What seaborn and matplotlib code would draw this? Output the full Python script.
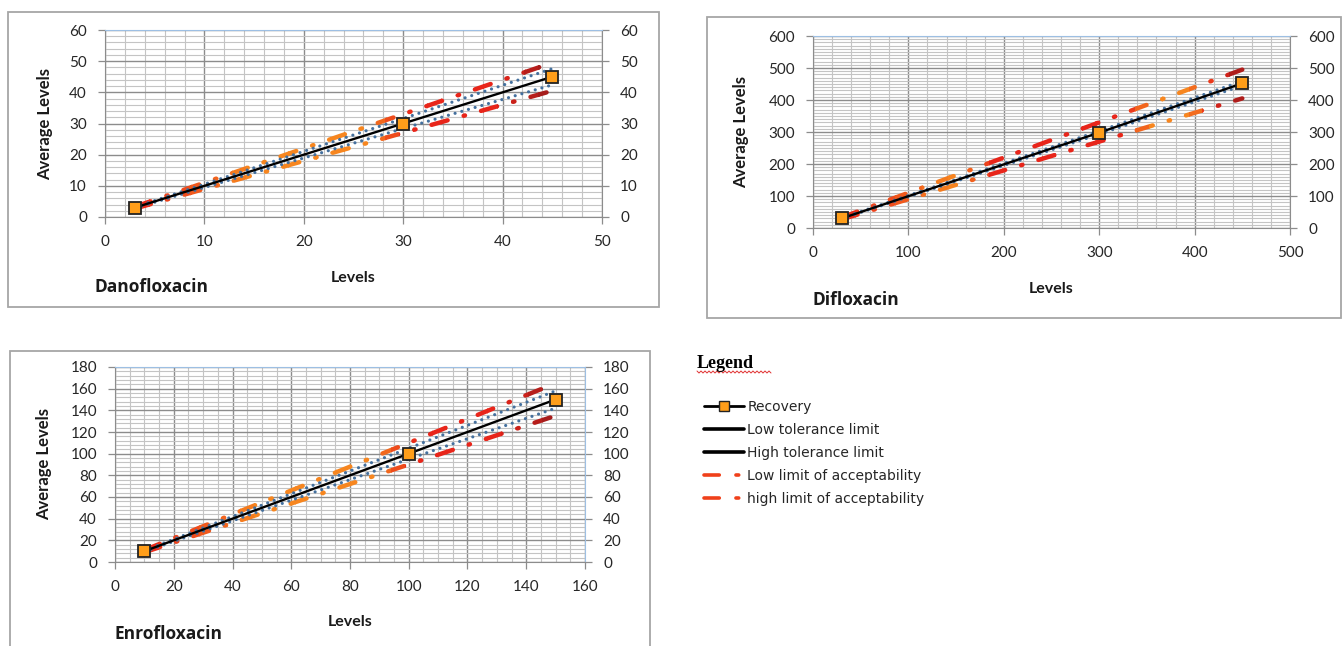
import numpy as np
import pandas as pd
import seaborn as sns
import matplotlib.pyplot as plt
from matplotlib.colors import LinearSegmentedColormap
from matplotlib.patches import Rectangle
from matplotlib.lines import Line2D
from matplotlib.ticker import MultipleLocator

# ---- data ----
dano_levels = [3, 30, 45]
dano_recovery = [3, 30, 45]
dano_tol_low = [2.85, 28.4, 42.4]
dano_tol_high = [3.15, 31.6, 47.6]
dano_acc_low = [2.7, 27, 40.5]
dano_acc_high = [3.3, 33, 49.5]

diflo_levels = [30, 300, 450]
diflo_recovery = [30, 298, 452]
diflo_tol_low = [29, 293, 445]
diflo_tol_high = [31, 303, 459]
diflo_acc_low = [27, 270, 405]
diflo_acc_high = [33, 330, 495]

enro_levels = [10, 100, 150]
enro_recovery = [10, 100, 150]
enro_tol_low = [9.5, 95, 142]
enro_tol_high = [10.5, 105, 158]
enro_acc_low = [9, 90, 135]
enro_acc_high = [11, 110, 165]

legend_labels = ["Recovery", "Low tolerance limit", "High tolerance limit",
                 "Low limit of acceptability", "high limit of acceptability"]

sns.set_style("white")
plt.rcParams["font.family"] = ["Lato", "DejaVu Sans"]
plt.rcParams["lines.scale_dashes"] = False

W, H = 1344, 646
fig = plt.figure(figsize=(W / 100, H / 100), dpi=100)

RED, ORANGE, DARKRED = "#E8251A", "#F7861F", "#9E1B1B"
ACC_DASH = (0, (12, 12, 1, 12))
TOL_DOT = (0, (0.01, 5))
GRID_MAJ, GRID_MIN = "#8c8c8c", "#c4c4c4"


def frac_rect(x0, y0, x1, y1):
    return [x0 / W, 1 - y1 / H, (x1 - x0) / W, (y1 - y0) / H]


def gradient_line(ax, levels, vals, stops, ymax, n=30):
    cmap = LinearSegmentedColormap.from_list("acc", stops)
    edges = np.linspace(levels[0], levels[-1], n + 1)
    for i in range(n):
        lo = edges[i] if i > 0 else -1e4
        hi = edges[i + 1] if i < n - 1 else 1e4
        sns.lineplot(x=levels, y=vals, ax=ax, color=cmap((i + 0.5) / n),
                     lw=3.2, linestyle=ACC_DASH, dash_capstyle="round",
                     estimator=None, legend=False)
        ax.lines[-1].set_clip_path(
            Rectangle((lo, -ymax), hi - lo + 0.002 * ymax, 3 * ymax, transform=ax.transData))


def panel(box, rect, name, name_xy, levels, rec, tl, th, al, ah,
          xmax, xmaj, xmin, ymax, ymaj, ymin, stops, ylab_x, xlab_y, right_col):
    fig.add_artist(Rectangle((box[0] / W, 1 - box[3] / H), (box[2] - box[0]) / W,
                             (box[3] - box[1]) / H, transform=fig.transFigure,
                             fill=False, ec="#a6a6a6", lw=1.3))
    ax = fig.add_axes(frac_rect(*rect))
    ax.set_facecolor("white")
    ax.set_xlim(0, xmax)
    ax.set_ylim(0, ymax)
    ax.xaxis.set_major_locator(MultipleLocator(xmaj))
    ax.xaxis.set_minor_locator(MultipleLocator(xmin))
    ax.yaxis.set_major_locator(MultipleLocator(ymaj))
    ax.yaxis.set_minor_locator(MultipleLocator(ymin))
    ax.grid(which="major", color=GRID_MAJ, lw=1.0)
    ax.grid(which="minor", color=GRID_MIN, lw=0.8)
    ax.set_axisbelow(True)
    ax.tick_params(which="major", direction="out", length=5, width=0.9, color=GRID_MAJ,
                   labelsize=11, labelcolor="#262626", left=True, right=True,
                   bottom=True, labelright=True, pad=8)
    ax.tick_params(which="minor", length=0)
    for s in ["left", "bottom"]:
        ax.spines[s].set_color(GRID_MAJ)
    ax.spines["top"].set_color("#9dbfe3")
    ax.spines["right"].set_color(right_col)

    gradient_line(ax, levels, al, stops, ymax)
    gradient_line(ax, levels, ah, stops, ymax)
    for t in (tl, th):
        sns.lineplot(x=levels, y=t, ax=ax, color="#44709e", lw=2.3, linestyle=TOL_DOT,
                     dash_capstyle="round", estimator=None, legend=False)
    sns.lineplot(x=levels, y=rec, ax=ax, color="black", lw=1.7, marker="s",
                 markersize=8, markerfacecolor="#FF9E1A", markeredgecolor="#222222",
                 markeredgewidth=1.3, estimator=None, legend=False)

    ax.set_ylabel("Average Levels", fontweight="bold", fontsize=12, color="#1a1a1a")
    ax.yaxis.set_label_coords(ylab_x, 0.5)
    ax.set_xlabel("Levels", fontweight="bold", fontsize=11.5, color="#1a1a1a")
    ax.xaxis.set_label_coords(0.5, xlab_y)
    fig.text(name_xy[0] / W, 1 - name_xy[1] / H, name, family=["Open Sans", "DejaVu Sans"],
             fontweight="bold", fontsize=12.5, color="#1a1a1a", ha="left", va="center")


stops_a = [(0, RED), (0.28, ORANGE), (0.55, ORANGE), (0.66, RED), (0.86, RED), (1, DARKRED)]
stops_b = [(0, RED), (0.28, ORANGE), (0.38, RED), (0.7, RED), (0.78, ORANGE),
           (0.87, ORANGE), (0.93, RED), (1, DARKRED)]

panel((8, 12, 659, 307), (105, 30, 602, 217), "Danofloxacin", (95, 287),
      dano_levels, dano_recovery, dano_tol_low, dano_tol_high, dano_acc_low, dano_acc_high,
      50, 10, 2, 60, 10, 2, stops_a, -0.105, -0.29, GRID_MAJ)
panel((707, 17, 1341, 318), (813, 36, 1290, 228), "Difloxacin", (813, 300),
      diflo_levels, diflo_recovery, diflo_tol_low, diflo_tol_high, diflo_acc_low, diflo_acc_high,
      500, 100, 20, 600, 100, 10, stops_b, -0.134, -0.28, GRID_MAJ)
panel((10, 351, 650, 660), (115, 367, 585, 562), "Enrofloxacin", (115, 634),
      enro_levels, enro_recovery, enro_tol_low, enro_tol_high, enro_acc_low, enro_acc_high,
      160, 20, 5, 180, 20, 4, stops_a, -0.134, -0.27, "#9dbfe3")

# ---- legend block ----
fig.text(697 / W, 1 - 363 / H, "Legend", family=["Liberation Serif"], fontweight="bold",
         fontsize=13, color="black", ha="left", va="center")
wx = np.arange(697, 772, 2.0)
wy = 372 + np.where(np.arange(len(wx)) % 2 == 0, -1.0, 1.0)
fig.add_artist(Line2D(wx / W, 1 - wy / H, transform=fig.transFigure, color="#e03030", lw=0.7))

handles = [
    Line2D([], [], color="black", lw=2, marker="s", markersize=7,
           markerfacecolor="#FF9E1A", markeredgecolor="#222222"),
    Line2D([], [], color="black", lw=2.6),
    Line2D([], [], color="black", lw=2.6),
    Line2D([], [], color="#F0401A", lw=2.6, linestyle=(0, (11, 12, 2, 20)), dash_capstyle="round"),
    Line2D([], [], color="#F0401A", lw=2.6, linestyle=(0, (11, 12, 2, 20)), dash_capstyle="round"),
]
fig.legend(handles, legend_labels, loc="upper left", bbox_to_anchor=(704 / W, 1 - 400 / H),
           frameon=False, borderpad=0, borderaxespad=0, handlelength=2.9, handletextpad=0.22,
           labelspacing=0.64, prop={"family": ["DejaVu Sans"], "size": 10}, labelcolor="#262626")

fig.savefig("out.png", dpi=100)
